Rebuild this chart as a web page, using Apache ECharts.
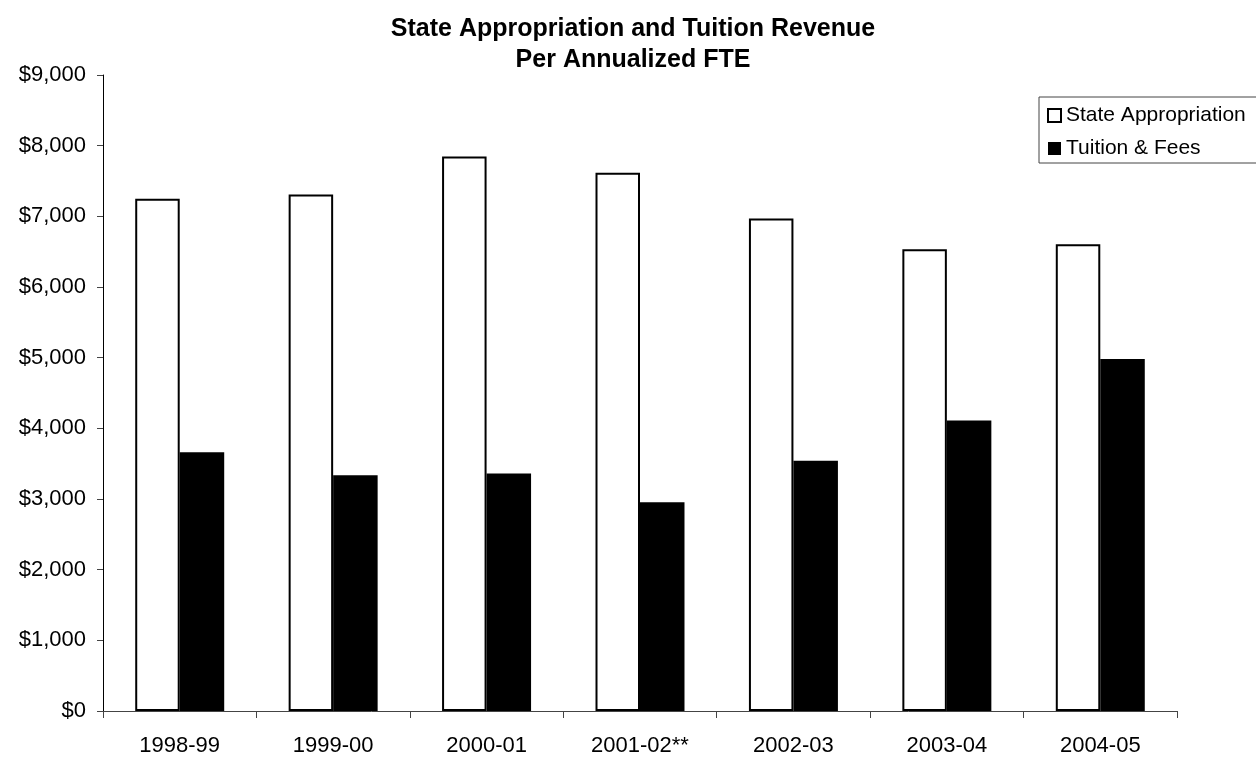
<!DOCTYPE html>
<html>
<head>
<meta charset="utf-8">
<script src="https://cdn.jsdelivr.net/npm/echarts@6/dist/echarts.min.js"></script>
<style>
html,body{margin:0;padding:0;background:#fff;}
#chart{width:1256px;height:757px;}
</style>
</head>
<body>
<div id="chart"></div>
<script>
const categories = ['1998-99', '1999-00', '2000-01', '2001-02**', '2002-03', '2003-04', '2004-05'];
const stateAppropriation = [7250, 7310, 7845, 7615, 6970, 6535, 6605];
const tuitionFees = [3660, 3335, 3360, 2955, 3540, 4110, 4980];
const seriesNames = ['State Appropriation', 'Tuition & Fees'];
const yTicks = [0, 1000, 2000, 3000, 4000, 5000, 6000, 7000, 8000, 9000];

const FONT = '"Liberation Sans", Arial, sans-serif';
const chart = echarts.init(document.getElementById('chart'), null, {renderer: 'canvas'});
chart.setOption({
  animation: false,
  backgroundColor: '#fff',
  title: {
    text: 'State Appropriation and Tuition Revenue\nPer Annualized FTE',
    left: 628,
    textAlign: 'center',
    top: 9,
    textStyle: {fontFamily: FONT, fontSize: 25, fontWeight: 'bold', color: '#000', lineHeight: 31}
  },
  legend: {
    orient: 'vertical',
    left: 1039,
    top: 97,
    padding: [8, 30, 4, 8],
    itemGap: 12,
    itemWidth: 13,
    itemHeight: 13,
    icon: 'rect',
    borderColor: '#444',
    borderWidth: 1,
    backgroundColor: '#fff',
    textStyle: {fontFamily: FONT, fontSize: 21, color: '#000'},
    data: seriesNames
  },
  grid: {left: 103, right: 79, top: 75, bottom: 46, containLabel: false},
  xAxis: {
    type: 'category',
    data: categories,
    axisLine: {lineStyle: {color: '#444', width: 1}},
    axisTick: {show: true, length: 7, lineStyle: {color: '#444'}},
    axisLabel: {fontFamily: FONT, fontSize: 22, color: '#000', margin: 24, interval: 0}
  },
  yAxis: {
    type: 'value',
    min: yTicks[0],
    max: yTicks[yTicks.length - 1],
    interval: 1000,
    axisLine: {show: true, lineStyle: {color: '#000', width: 1}},
    axisTick: {show: true, length: 6, lineStyle: {color: '#444'}},
    splitLine: {show: false},
    axisLabel: {
      fontFamily: FONT, fontSize: 22, color: '#000', margin: 17,
      formatter: v => '$' + v.toLocaleString('en-US')
    }
  },
  series: [
    {
      name: seriesNames[0],
      type: 'bar',
      data: stateAppropriation,
      barGap: '0%',
      barCategoryGap: '42%',
      itemStyle: {color: '#fff', borderColor: '#000', borderWidth: 2}
    },
    {
      name: seriesNames[1],
      type: 'bar',
      data: tuitionFees,
      barGap: '0%',
      barCategoryGap: '42%',
      itemStyle: {color: '#000', borderColor: '#000', borderWidth: 0}
    }
  ]
});
</script>
</body>
</html>
